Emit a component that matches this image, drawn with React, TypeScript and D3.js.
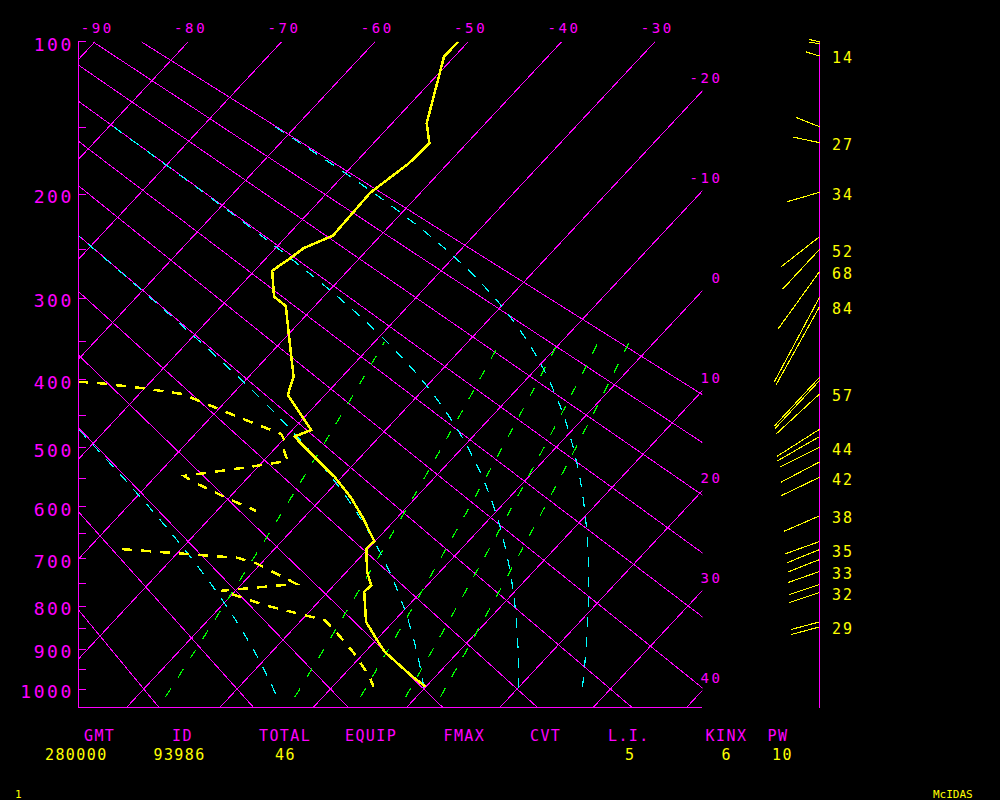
import React from "react";
import * as d3 from "d3";

// ---------- data ----------
const KAPPA = 0.2857;
const isotherms = [-90, -80, -70, -60, -50, -40, -30, -20, -10, 0, 10, 20, 30, 40];
const topTempLabels = [-90, -80, -70, -60, -50, -40, -30];
const rightTempLabels = [-20, -10, 0, 10, 20, 30, 40];
const dryAdiabats = [-20, -10, 0, 10, 20, 30, 40, 50, 60, 70, 80, 90]; // theta, deg C
const moistThetaE = [0, 30, 60, 90]; // theta-e, deg C
const mixingRatios = [1, 3, 5, 7, 9]; // g/kg
const pressureTicks = [100, 150, 200, 250, 300, 350, 400, 450, 500, 550, 600, 650, 700, 750, 800, 850, 900, 950, 1000];
const pressureLabels = [100, 200, 300, 400, 500, 600, 700, 800, 900, 1000];

const tempP = [100, 107.8, 147.4, 161.2, 175.8, 199.1, 236.5, 248.5, 258.0, 270.8, 298.4, 308.8, 340.2, 395.9, 421.0, 472.3, 482.6, 514.4, 547.6, 584.3, 621.1, 664.8, 679.2, 726.6, 754.6, 768.9, 835.7, 882.4, 906.5, 968.7, 994.4];
const tempT = [-51.1, -51.1, -46.3, -44.0, -44.2, -45.4, -45.1, -47.0, -47.4, -48.1, -45.3, -43.1, -40.1, -35.2, -34.0, -28.0, -29.1, -25.0, -20.8, -16.9, -13.6, -10.1, -10.2, -7.8, -6.0, -6.1, -2.9, 0.4, 2.1, 7.6, 10.0];

const dewP = [402.7, 404.9, 411.8, 419.7, 430.6, 454.5, 478.5, 490.4, 503.5, 521.3, 531.7, 540.7, 546.3, 556.0, 587.8, 607.6, 640.0, 680.5, 697.8, 709.2, 751.6, 766.6, 797.7, 831.8, 862.8, 910.4, 968.9, 994.4];
const dewT: (number | null)[] = [-57.8, -55.2, -50.1, -45.4, -42.6, -36.7, -30.8, -29.6, -28.9, -27.4, -31.1, -34.8, -37.0, -35.5, -29.6, -25.8, null, -36.3, -23.1, -20.5, -14.2, -21.5, -15.5, -7.5, -4.8, -1.0, 3.0, 4.4];

const windP = [100, 101, 107.4, 149.7, 160.7, 198.6, 237.5, 249.5, 271.8, 299.1, 309.6, 396.8, 401, 419.7, 471.3, 482.6, 499.2, 522.9, 548.5, 616.8, 665.5, 681.3, 701.3, 725.8, 753.3, 770.4, 835.7, 847.3];
const windDir = [281, 278, 286, 290, 281, 255, 234, 225, 218, 210, 211, 225, 225, 229.5, 239.5, 242, 245, 244, 246, 248, 251.6, 249.4, 250, 252, 253, 253, 256, 256];
const windSpd = [11, 11, 14, 25, 27, 34, 48, 52, 68, 90, 84, 64, 63, 57, 49, 48, 44, 43, 42, 38, 36, 35, 34, 33, 32, 32, 29, 29];
const windLabeled = [false, false, true, false, true, true, false, true, true, false, true, false, false, true, false, false, true, false, true, true, false, true, false, true, false, true, false, true];

const statHeaders = ["GMT", "ID", "TOTAL", "EQUIP", "FMAX", "CVT", "L.I.", "KINX", "PW"];
const statValues = ["280000", "93986", "46", "", "", "", "5", "6", "10"];

// ---------- layout ----------
const headerX = [84, 172, 259, 345, 443.5, 530, 608, 705.6, 767.5];
const valueX = [45, 153.5, 275, 0, 0, 0, 625, 721.6, 772];

const PL = 78, PR = 702.3, PT = 41.7, PB = 707.5;
const SKEW = 0.934;
const STAFF_X = 819.5;
const FONT = "'DejaVu Sans Mono', monospace";
const MAG = "#ff00ff", YEL = "#ffff00", CYA = "#00ffff", GRN = "#00ff00";

const yS = d3.scalePow().exponent(KAPPA).domain([100, 1000]).range([41.7, 689]);
const tS = d3.scaleLinear().domain([-90, -30]).range([95, 655]);
const X = (T: number, p: number) => tS(T) - SKEW * (yS(p) - yS(100));
const pBottom = yS.invert(PB);

function es(T: number) { return 6.112 * Math.exp((17.67 * T) / (T + 243.5)); }
function thetaE(T: number, p: number) {
  const Tk = T + 273.15;
  const e = es(T);
  if (e > 0.6 * p) return 1e9;
  const rs = (0.622 * e) / (p - e);
  return Tk * Math.pow(1000 / p, KAPPA) * Math.exp((2.5e6 * rs) / (1004 * Tk));
}
function moistT(thK: number, p: number) {
  let lo = -150, hi = 60;
  for (let i = 0; i < 60; i++) {
    const m = (lo + hi) / 2;
    if (thetaE(m, p) > thK) hi = m; else lo = m;
  }
  return (lo + hi) / 2;
}
function mixT(w: number, p: number) {
  const e = (w * p) / (622 + w);
  const l = Math.log(e / 6.112);
  return (243.5 * l) / (17.67 - l);
}

const line = d3.line<[number, number]>().x(d => d[0]).y(d => d[1]);

export default function App() {
  const isoLines = isotherms.map(T => line([[X(T, 100), yS(100)], [X(T, pBottom), yS(pBottom)]]));
  const dryLines = dryAdiabats.map(th => {
    const pts = d3.range(100, pBottom + 0.01, (pBottom - 100) / 40).map(p => {
      const T = (th + 273.15) * Math.pow(p / 1000, KAPPA) - 273.15;
      return [X(T, p), yS(p)] as [number, number];
    });
    return line(pts);
  });
  const moistLines = moistThetaE.map(th => {
    const pts = d3.range(150, 1021.5, 3).map(p => [X(moistT(th + 273.15, p), p), yS(p)] as [number, number]);
    return line(pts);
  });
  const mixLines = mixingRatios.map(w => {
    const pts = d3.range(1021, 349, -10).map(p => [X(mixT(w, p), p), yS(p)] as [number, number]);
    return line(pts);
  });
  const tempPath = line(tempP.map((p, i) => [X(tempT[i], p), yS(p)] as [number, number]));
  const dewLine = d3.line<[number, number | null]>()
    .defined(d => d[1] !== null)
    .x(d => X(d[1] as number, d[0]))
    .y(d => yS(d[0]));
  const dewPath = dewLine(dewP.map((p, i) => [p, dewT[i]] as [number, number | null]));

  return (
    <svg width={1000} height={800} style={{ position: "absolute", left: 0, top: 0, display: "block" }}>
      <rect x={0} y={0} width={1000} height={800} fill="#000" />
      <defs>
        <clipPath id="plotClip">
          <rect x={PL} y={PT} width={PR - PL} height={PB - PT} />
        </clipPath>
      </defs>
      <g clipPath="url(#plotClip)" fill="none" shapeRendering="crispEdges">
        {isoLines.map((d, i) => <path key={"iso" + i} d={d || ""} stroke={MAG} strokeWidth={1} />)}
        {dryLines.map((d, i) => <path key={"dry" + i} d={d || ""} stroke={MAG} strokeWidth={1} />)}
        {mixLines.map((d, i) => <path key={"mix" + i} d={d || ""} stroke={GRN} strokeWidth={1.2} strokeDasharray="10,13" />)}
        {moistLines.map((d, i) => <path key={"moist" + i} d={d || ""} stroke={CYA} strokeWidth={1.2} strokeDasharray="10,10" />)}
        <path d={dewPath || ""} stroke={YEL} strokeWidth={2.5} strokeDasharray="10,9" />
        <path d={tempPath || ""} stroke={YEL} strokeWidth={2.5} />
      </g>
      {/* axes */}
      <g shapeRendering="crispEdges" stroke={MAG} strokeWidth={1}>
        <line x1={PL} y1={PT} x2={PL} y2={PB} />
        <line x1={PL} y1={PB} x2={PR} y2={PB} />
        {pressureTicks.map(p => <line key={"t" + p} x1={PL} y1={yS(p)} x2={PL + 8} y2={yS(p)} />)}
        <line x1={STAFF_X} y1={PT} x2={STAFF_X} y2={PB} />
      </g>
      {/* pressure labels */}
      <g fill={MAG} fontFamily={FONT} fontSize={18} letterSpacing={2.6} textAnchor="end">
        {pressureLabels.map(p => <text key={"pl" + p} x={74} y={yS(p) + 9}>{p}</text>)}
      </g>
      {/* top temperature labels */}
      <g fill={MAG} fontFamily={FONT} fontSize={14} letterSpacing={2.6} textAnchor="middle">
        {topTempLabels.map(T => <text key={"tt" + T} x={tS(T) + 2.3} y={33.3}>{T}</text>)}
      </g>
      {/* right temperature labels */}
      <g fill={MAG} fontFamily={FONT} fontSize={14} letterSpacing={2.6} textAnchor="end">
        {rightTempLabels.map(T => {
          const yEnd = yS(100) + (tS(T) - PR) / SKEW;
          return <text key={"rt" + T} x={722.5} y={yEnd - 8}>{T}</text>;
        })}
      </g>
      {/* winds */}
      <g stroke={YEL} strokeWidth={1.1} shapeRendering="crispEdges">
        {windP.map((p, i) => {
          const a = (windDir[i] * Math.PI) / 180;
          const y0 = yS(p);
          return <line key={"w" + i} x1={STAFF_X} y1={y0} x2={STAFF_X + windSpd[i] * Math.sin(a)} y2={y0 - 1.08 * windSpd[i] * Math.cos(a)} />;
        })}
      </g>
      <g fill={YEL} fontFamily={FONT} fontSize={15} letterSpacing={2}>
        {windP.map((p, i) => windLabeled[i] ? <text key={"wl" + i} x={832} y={yS(p) + 7.3}>{windSpd[i]}</text> : null)}
      </g>
      {/* bottom stats */}
      <g fontFamily={FONT} fontSize={15} letterSpacing={1.4}>
        {statHeaders.map((h, i) => <text key={"h" + i} x={headerX[i]} y={741} fill={MAG}>{h}</text>)}
        {statValues.map((v, i) => v ? <text key={"v" + i} x={valueX[i]} y={760} fill={YEL}>{v}</text> : null)}
      </g>
      <text x={15} y={797.5} fill={YEL} fontFamily={FONT} fontSize={11}>1</text>
      <text x={933} y={797.5} fill={YEL} fontFamily={FONT} fontSize={11}>McIDAS</text>
    </svg>
  );
}
